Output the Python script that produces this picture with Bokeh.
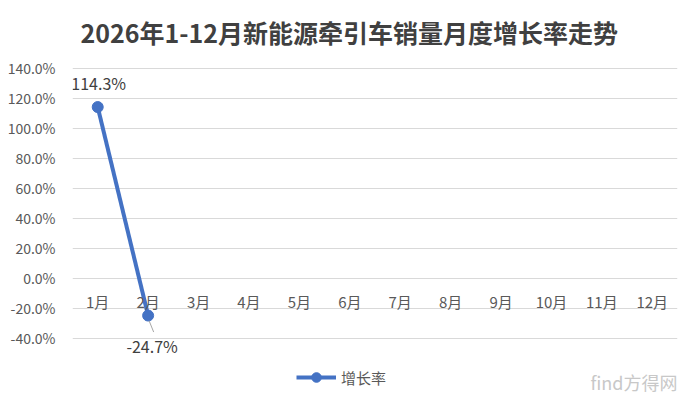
from bokeh.plotting import figure
from bokeh.models import FixedTicker, NumeralTickFormatter, Legend, LegendItem, Label, Range1d, ColumnDataSource
from bokeh.transform import dodge
from bokeh.core.properties import value
from bokeh.embed import file_html
from bokeh.resources import INLINE

title_text = "2026年1-12月新能源牵引车销量月度增长率走势"
months = ["1月", "2月", "3月", "4月", "5月", "6月", "7月", "8月", "9月", "10月", "11月", "12月"]
growth_months = ["1月", "2月"]
growth = [1.143, -0.247]
growth_labels = ["114.3%", "-24.7%"]
y_ticks = [-0.4, -0.2, 0.0, 0.2, 0.4, 0.6, 0.8, 1.0, 1.2, 1.4]
series_name = "增长率"
watermark = "find方得网"

FONT = "Noto Sans CJK SC"
BLUE = "#4472C4"
GRID = "#D9D9D9"
TXT = "#595959"

# frame is extended above and below the gridded -40%..140% band so the
# legend and the lower data label can sit inside it
p = figure(x_range=months, y_range=Range1d(-0.78, 1.4933), width=690, height=397,
           output_backend="svg", toolbar_location=None,
           min_border_left=72, min_border_right=13, min_border_top=54, min_border_bottom=2)
p.outline_line_color = None
p.background_fill_color = "white"
p.border_fill_color = "white"

p.title.text = title_text
p.title.text_font = FONT
p.title.text_font_size = "25px"
p.title.text_font_style = "bold"
p.title.text_color = "#404040"
p.title.align = "left"
p.title.offset = 8

# y axis
ya = p.yaxis[0]
ya.ticker = FixedTicker(ticks=y_ticks)
ya.formatter = NumeralTickFormatter(format="0.0%")
ya.axis_line_color = None
ya.major_tick_line_color = None
ya.minor_tick_line_color = None
ya.major_label_standoff = 11
ya.major_label_text_font = FONT
ya.major_label_text_font_size = "14px"
ya.major_label_text_color = TXT

# x axis sitting at zero
xa = p.xaxis[0]
xa.fixed_location = 0
xa.axis_line_color = None
xa.major_tick_line_color = None
xa.minor_tick_line_color = None
xa.major_label_standoff = 7
xa.major_label_text_font = FONT
xa.major_label_text_font_size = "15px"
xa.major_label_text_color = TXT

p.xgrid.grid_line_color = None
p.ygrid.ticker = FixedTicker(ticks=y_ticks)
p.ygrid.grid_line_color = GRID
p.ygrid.grid_line_width = 1

src = ColumnDataSource(dict(x=growth_months, y=growth, label=growth_labels))

line_r = p.line("x", "y", source=src, line_color=BLUE, line_width=4)
dot_r = p.scatter("x", "y", source=src, marker="circle", size=11, fill_color=BLUE, line_color=BLUE)

# leader line for the second data label
lead_src = ColumnDataSource(dict(x=[growth_months[1]], y0=[growth[1] - 0.035], y1=[growth[1] - 0.11]))
p.segment(x0=dodge("x", 0.02, range=p.x_range), y0="y0", x1=dodge("x", 0.11, range=p.x_range), y1="y1",
          source=lead_src, line_color="#A6A6A6", line_width=1)

p.text(x=[growth_months[0]], y=[growth[0]], text=[growth_labels[0]], text_align="center",
       text_baseline="middle", y_offset=-24, x_offset=1, text_font=value(FONT),
       text_font_size="16px", text_color="#404040")
p.text(x=[growth_months[1]], y=[growth[1]], text=[growth_labels[1]], text_align="center",
       text_baseline="middle", y_offset=30, x_offset=4, text_font=value(FONT),
       text_font_size="16px", text_color="#404040")

legend = Legend(items=[LegendItem(label=series_name, renderers=[line_r, dot_r])],
                orientation="horizontal", location=(224, 6),
                label_text_font=FONT, label_text_font_size="15px", label_text_color=TXT,
                glyph_width=40, glyph_height=24, border_line_color=None,
                background_fill_alpha=0, margin=0, padding=4, label_standoff=5)
p.add_layout(legend)

p.add_layout(Label(x=605, y=1, x_units="screen", y_units="screen", text=watermark,
                   text_align="right", text_font=FONT, text_font_size="18px",
                   text_color="#C8C8C8"))

open("out.html", "w").write(file_html(p, INLINE))
